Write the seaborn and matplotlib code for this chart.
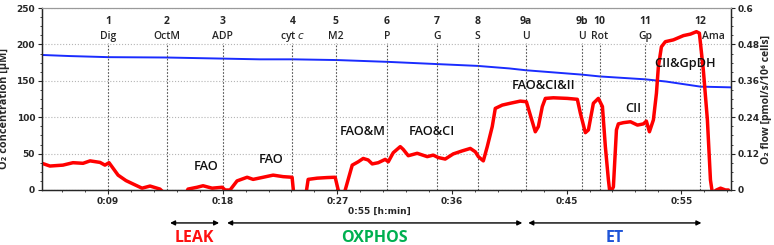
import matplotlib
matplotlib.use("Agg")
import matplotlib.pyplot as plt
import matplotlib.transforms as mtransforms
from matplotlib.ticker import MultipleLocator
import seaborn as sns

sns.set_style("ticks")
plt.rcParams['font.family'] = ['Open Sans', 'DejaVu Sans']

# O2 concentration (left axis, uM) over time (min)
o2_time = [3.82, 6.0, 9.0, 13.6, 18.0, 20.9, 23.5, 27.0, 31.0, 34.8, 38.0, 40.5,
           41.8, 46.2, 47.6, 51.2, 52.8, 55.5, 57.9]
o2_conc = [185.5, 184.0, 182.5, 182.0, 180.5, 179.5, 179.5, 178.5, 176.0, 173.0,
           170.5, 167.0, 164.5, 158.5, 156.0, 152.0, 149.0, 142.0, 141.0]

# O2 flow (right axis, pmol/s/10^6 cells) over time (min)
flow_time = [3.82, 4.44, 5.46, 6.25, 7.04, 7.59, 8.37, 8.76, 9.08, 9.79, 10.41,
             10.96, 11.67, 12.30, 13.08, 13.40, 15.13, 15.28, 15.99, 16.46, 17.17,
             17.96, 18.19, 18.58, 19.13, 19.92, 20.39, 21.18, 21.96, 22.75, 23.45,
             23.57, 24.55, 24.71, 25.42, 26.20, 26.83, 27.07, 27.22, 27.54, 27.62,
             28.17, 28.64, 29.03, 29.42, 29.74, 30.21, 30.76, 31.00, 31.39, 31.94,
             32.17, 32.57, 33.27, 34.06, 34.53, 34.92, 35.47, 36.10, 36.81, 37.44,
             37.83, 38.07, 38.46, 38.77, 39.16, 39.40, 39.95, 40.58, 41.36, 41.84,
             42.15, 42.54, 42.78, 43.09, 43.33, 43.96, 45.06, 45.84, 46.08, 46.47,
             46.71, 47.10, 47.49, 47.81, 48.04, 48.28, 48.40, 48.67, 48.91, 49.06,
             49.46, 50.01, 50.56, 51.03, 51.26, 51.50, 51.81, 52.05, 52.20, 52.44,
             52.75, 53.38, 54.17, 54.72, 55.19, 55.42, 55.73, 56.05, 56.29, 56.44,
             56.76, 57.08, 57.47, 57.70]
flow = [0.088, 0.079, 0.082, 0.090, 0.088, 0.096, 0.091, 0.082, 0.090, 0.049, 0.031,
        0.020, 0.006, 0.013, 0.003, -0.010, -0.010, 0.003, 0.009, 0.014, 0.006,
        0.009, 0.000, 0.000, 0.030, 0.042, 0.035, 0.042, 0.049, 0.044, 0.042,
        -0.010, -0.010, 0.035, 0.039, 0.041, 0.042, 0.000, -0.010, -0.010, 0.000,
        0.082, 0.093, 0.104, 0.099, 0.086, 0.090, 0.101, 0.093, 0.123, 0.143,
        0.134, 0.113, 0.121, 0.110, 0.115, 0.107, 0.102, 0.119, 0.129, 0.137,
        0.126, 0.110, 0.096, 0.143, 0.209, 0.269, 0.280, 0.286, 0.293, 0.291,
        0.247, 0.192, 0.209, 0.275, 0.302, 0.304, 0.302, 0.299, 0.253, 0.189,
        0.198, 0.286, 0.302, 0.275, 0.143, 0.033, -0.010, 0.010, 0.198, 0.218,
        0.222, 0.225, 0.214, 0.218, 0.227, 0.192, 0.231, 0.319, 0.406, 0.472,
        0.489, 0.495, 0.509, 0.514, 0.522, 0.517, 0.396, 0.231, 0.033, -0.010,
        0.000, 0.006, 0.000, 0.000]

# titration events
event_time = [9.0, 13.61, 18.01, 23.48, 26.89, 30.89, 34.82, 38.01, 41.78, 46.21,
              47.59, 51.18, 55.50]
event_num = ["1", "2", "3", "4", "5", "6", "7", "8", "9a", "9b", "10", "11", "12"]
event_name = ["Dig", "OctM", "ADP", "cyt $\\mathit{c}$", "M2", "P", "G", "S", "U", "U",
              "Rot", "Gp", "Ama"]

# respiratory states
state_name = ["FAO", "FAO", "FAO&M", "FAO&CI", "FAO&CI&II", "CII", "CII&GpDH"]
state_time = [16.7, 21.8, 29.0, 34.4, 43.2, 50.2, 54.3]
state_flow = [0.076, 0.099, 0.192, 0.192, 0.346, 0.269, 0.418]

# coupling control phases
phase_name = ["LEAK", "OXPHOS", "ET"]
phase_start = [13.87, 18.35, 41.99]
phase_end = [17.72, 41.52, 55.58]
phase_color = ["#ff1010", "#00b050", "#1f55d8"]

x_ticks = [9, 18, 27, 36, 45, 54]
x_labels = ["0:09", "0:18", "0:27", "0:36", "0:45", "0:55"]
flow_ticks = [0, 0.12, 0.24, 0.36, 0.48, 0.6]
flow_labels = ["0", "0.12", "0.24", "0.36", "0.48", "0.6"]

fig = plt.figure(figsize=(7.74, 2.45), dpi=100)
ax = fig.add_axes([0.0543, 0.2245, 0.8901, 0.7428])
ax2 = ax.twinx()

sns.lineplot(x=o2_time, y=o2_conc, ax=ax, color="#1a2cff", lw=1.4, estimator=None)
sns.lineplot(x=flow_time, y=flow, ax=ax2, color="#ff0000", lw=2.5, estimator=None)

ax.set_xlim(3.82, 57.9)
ax.set_ylim(0, 250)
ax2.set_ylim(0, 0.6)

tickfont = dict(family="DejaVu Sans", weight="bold", size=6.5)
ax.set_xticks(x_ticks, labels=x_labels, **tickfont)
ax.xaxis.set_minor_locator(MultipleLocator(1.8))
ax.set_yticks(range(0, 251, 50), labels=[str(v) for v in range(0, 251, 50)], **tickfont)
ax.yaxis.set_minor_locator(MultipleLocator(12.5))
ax2.set_yticks(flow_ticks, labels=flow_labels, **tickfont)
ax2.yaxis.set_minor_locator(MultipleLocator(0.03))
for a in (ax, ax2):
    a.tick_params(which="major", length=3, width=0.8, pad=2)
    a.tick_params(which="minor", length=1.5, width=0.6)
    a.spines["top"].set_color("#9a9a9a")
    for s in ("left", "right", "bottom"):
        a.spines[s].set_linewidth(0.9)

ax.grid(axis="y", ls=":", color="#b5b5b5", lw=0.8)
ax.grid(axis="x", visible=False)

ax.set_ylabel("O₂ concentration [µM]", fontsize=7.8, fontweight="bold")
ax.yaxis.set_label_coords(-0.046, 0.45)
ax2.set_ylabel("O₂ flow [pmol/s/10⁶ cells]", fontsize=7.5, fontweight="bold",
               rotation=90)
ax2.yaxis.set_label_coords(1.043, 0.5)

trans = mtransforms.blended_transform_factory(ax.transData, ax.transAxes)
for t, n, lab in zip(event_time, event_num, event_name):
    ax.axvline(t, ymin=0, ymax=0.81, ls=(0, (1.5, 1.5)), color="#555555", lw=0.8)
    ax.text(t, 0.925, n, transform=trans, ha="center", va="center",
            fontsize=7.5, fontweight="bold")
    if lab == "Ama":
        ax.text(t + 0.1, 0.842, lab, transform=trans, ha="left", va="center",
                fontsize=7.5, fontweight="semibold")
    else:
        ax.text(t, 0.842, lab, transform=trans, ha="center", va="center",
                fontsize=7.5, fontweight="semibold")

for lab, t, f in zip(state_name, state_time, state_flow):
    ax2.text(t, f, lab, ha="center", va="center", fontsize=9.2,
             fontweight="semibold", color="#111111")

ax.text(30.3, -0.115, "0:55 [h:min]", transform=trans, ha="center", va="center",
        fontsize=6.5, fontweight="bold", family="DejaVu Sans")

for lab, s, e, c in zip(phase_name, phase_start, phase_end, phase_color):
    ax.annotate("", xy=(e, -0.181), xytext=(s, -0.181), xycoords=trans,
                textcoords=trans, annotation_clip=False,
                arrowprops=dict(arrowstyle="<|-|>", color="black", lw=1,
                                mutation_scale=7, shrinkA=0, shrinkB=0))
    ax.text((s + e) / 2, -0.265, lab, transform=trans, ha="center", va="center",
            fontsize=11.5, fontweight="bold", color=c)

fig.savefig("out.png", dpi=100)
